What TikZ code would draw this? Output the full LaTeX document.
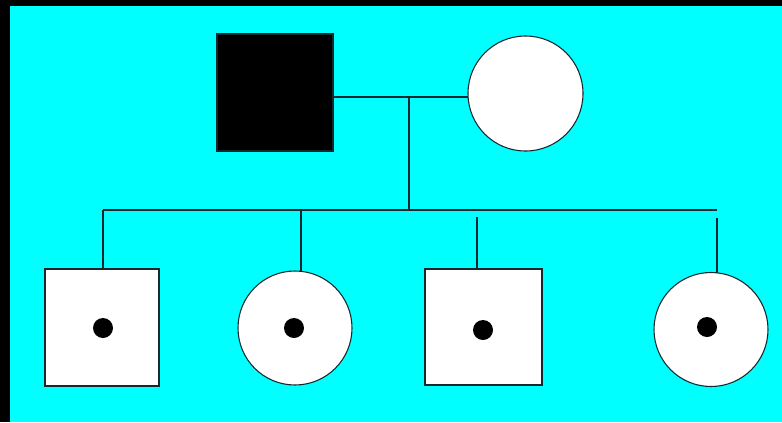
\documentclass[tikz,border=0pt]{standalone}
\definecolor{bgcyan}{RGB}{0,255,255}
\definecolor{linecol}{RGB}{20,40,45}
\begin{document}
\begin{tikzpicture}[x=0.75pt,y=-0.75pt,
  conn/.style={draw=linecol, line width=1.1pt},
  male/.style={rectangle, draw=linecol, line width=0.8pt, inner sep=0pt, outer sep=0pt},
  female/.style={circle, draw=linecol, line width=0.8pt, inner sep=0pt, outer sep=0pt, fill=white, minimum size=85.5pt},
  carrier/.style={circle, fill=black, inner sep=0pt, minimum size=15pt}]
\useasboundingbox (0,0) rectangle (782,422);
\fill[black] (0,0) rectangle (782,422);
\fill[bgcyan] (10,6) rectangle (782,422);
% parents
\node[male, fill=black, minimum width=87pt, minimum height=87.75pt] (father) at (275,92.5) {};
\node[female, minimum size=86.25pt] (mother) at (525.5,93.5) {};
% children
\node[male, fill=white, minimum width=85.5pt, minimum height=87.75pt] (c1) at (102,327.5) {};
\node[female] (c2) at (295,328) {};
\node[male, fill=white, minimum width=87.75pt, minimum height=87pt] (c3) at (483.5,327) {};
\node[female] (c4) at (711,329.5) {};
% carrier dots
\node[carrier] (d1) at (103,328) {};
\node[carrier] (d2) at (294,328) {};
\node[carrier] (d3) at (483,330) {};
\node[carrier] (d4) at (707,327) {};
% connectors
\coordinate (mate) at (409,97);
\coordinate (sib) at (409,210);
\coordinate (sibL) at (103,210);
\coordinate (sibR) at (717,210);
\coordinate (s2) at (301,210);
\coordinate (s3) at (477,217);
\coordinate (s4) at (717,218);
\draw[conn] (father.east |- mate) -- (mother.west |- mate);
\draw[conn] (mate) -- (sib);
\draw[conn] (sibL) -- (sibR);
\draw[conn] (sibL) -- (sibL |- c1.north);
\draw[conn] (s2) -- (s2 |- c2.north);
\draw[conn] (s3) -- (s3 |- c3.north);
\draw[conn] (s4) -- (s4 |- c4.north);
\end{tikzpicture}
\end{document}
